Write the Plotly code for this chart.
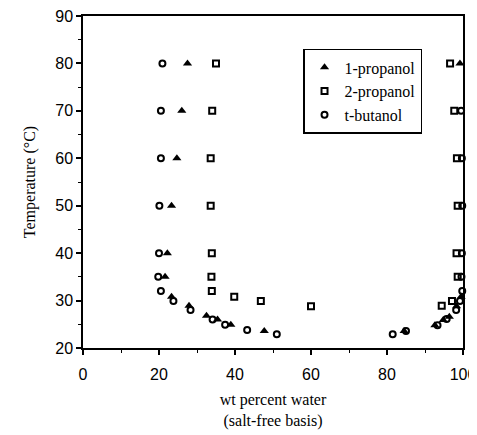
import plotly.graph_objects as go

# 1-propanol (filled triangles)
p1_x = [27.5, 26.0, 24.7, 23.3, 22.2, 21.6, 23.3, 27.9, 32.5, 35.4, 38.9, 47.7,
        84.5, 92.6, 94.8, 96.4, 98.3, 99.5, 99.2]
p1_t = [80, 70, 60, 50, 40, 35, 30.8, 28.9, 26.8, 26.0, 24.9, 23.6,
        23.6, 24.8, 25.9, 26.6, 28.8, 30.8, 80]

# 2-propanol (open squares)
p2_x = [35.0, 34.0, 33.6, 33.6, 33.9, 33.8, 33.9, 39.8, 46.8, 60.0,
        94.4, 97.1, 98.6, 98.3, 98.6, 98.4, 97.7, 96.6]
p2_t = [80, 70, 60, 50, 40, 35, 32, 30.8, 29.9, 28.8,
        28.9, 29.9, 35, 40, 50, 60, 70, 80]

# t-butanol (open circles)
tb_x = [20.9, 20.5, 20.5, 20.1, 20.0, 19.8, 20.5, 23.8, 28.3, 34.1, 37.4, 43.2, 51.0,
        81.5, 85.0, 93.3, 95.7, 98.2, 99.2, 99.8, 99.6, 99.7, 99.8, 99.7, 99.5]
tb_t = [80, 70, 60, 50, 40, 35, 32, 29.9, 28.0, 26.0, 24.9, 23.8, 22.9,
        22.9, 23.6, 24.8, 26.1, 28.0, 29.9, 32, 35, 40, 50, 60, 70]

fig = go.Figure()
fig.add_trace(go.Scatter(x=p1_x, y=p1_t, mode="markers", name="1-propanol", cliponaxis=False,
                         marker=dict(symbol="triangle-up", size=8, color="black")))
fig.add_trace(go.Scatter(x=p2_x, y=p2_t, mode="markers", name="2-propanol", cliponaxis=False,
                         marker=dict(symbol="square-open", size=6, color="black",
                                     line=dict(width=2, color="black"))))
fig.add_trace(go.Scatter(x=tb_x, y=tb_t, mode="markers", name="t-butanol", cliponaxis=False,
                         marker=dict(symbol="circle-open", size=6, color="black",
                                     line=dict(width=2, color="black"))))

axis_common = dict(showgrid=False, zeroline=False, showline=True, linecolor="black",
                   linewidth=1.5, mirror=True, ticks="outside", ticklen=5,
                   tickwidth=1.5, tickcolor="black", ticklabeloverflow="allow",
                   tickfont=dict(family="Liberation Sans", size=16, color="black"))

fig.update_xaxes(range=[0, 100], tick0=0, dtick=20,
                 minor=dict(ticks="outside", ticklen=3, dtick=10, tickcolor="black", tickwidth=1.2),
                 ticklabelstandoff=6,
                 title=dict(text="wt percent water<br>(salt-free basis)",
                            font=dict(family="Liberation Serif", size=16, color="black"),
                            standoff=12),
                 **axis_common)
fig.update_yaxes(range=[20, 90], tick0=20, dtick=10,
                 minor=dict(ticks="outside", ticklen=3, dtick=5, tickcolor="black", tickwidth=1.2),
                 title=dict(text="Temperature (°C)",
                            font=dict(family="Liberation Serif", size=16, color="black"),
                            standoff=16),
                 **axis_common)

fig.update_layout(
    width=469, height=427,
    margin=dict(l=75, r=14, t=8, b=87, autoexpand=False),
    paper_bgcolor="white", plot_bgcolor="white",
    showlegend=True,
    legend=dict(x=0.579, y=0.901, xanchor="left", yanchor="top",
                bgcolor="white", bordercolor="black", borderwidth=1.5,
                font=dict(family="Liberation Serif", size=16, color="black"),
                tracegroupgap=0, itemwidth=30),
)

fig.write_html("out.html")
